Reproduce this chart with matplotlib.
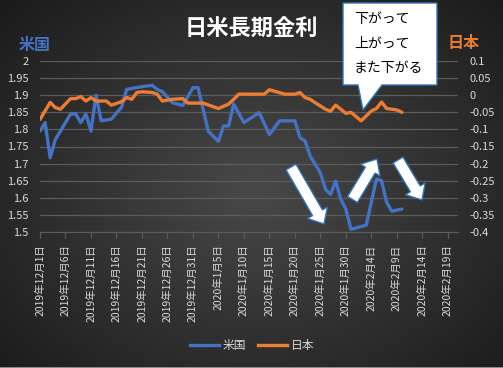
import numpy as np
import matplotlib
matplotlib.use("Agg")
import matplotlib.pyplot as plt
from matplotlib.patches import Polygon, FancyArrow
from matplotlib.ticker import FixedLocator, FuncFormatter
from matplotlib.lines import Line2D
import datetime as dt

plt.rcParams['font.family'] = ['Noto Sans CJK JP', 'DejaVu Sans']

# ---- data ----
us_dates = ["2019-12-01", "2019-12-02", "2019-12-03", "2019-12-04", "2019-12-07", "2019-12-08",
            "2019-12-09", "2019-12-10", "2019-12-11", "2019-12-12", "2019-12-13", "2019-12-15",
            "2019-12-17", "2019-12-18", "2019-12-21", "2019-12-23", "2019-12-24", "2019-12-25",
            "2019-12-27", "2019-12-29", "2019-12-31", "2020-01-01", "2020-01-03", "2020-01-05",
            "2020-01-06", "2020-01-07", "2020-01-08", "2020-01-10", "2020-01-13", "2020-01-15",
            "2020-01-17", "2020-01-20", "2020-01-21", "2020-01-22", "2020-01-23", "2020-01-25",
            "2020-01-26", "2020-01-27", "2020-01-28", "2020-01-29", "2020-01-30", "2020-01-31",
            "2020-02-03", "2020-02-05", "2020-02-06", "2020-02-07", "2020-02-08", "2020-02-10"]
us_values = [1.795, 1.82, 1.717, 1.77, 1.845, 1.845,
             1.82, 1.845, 1.795, 1.90, 1.825, 1.83,
             1.865, 1.917, 1.925, 1.929, 1.917, 1.91,
             1.878, 1.870, 1.922, 1.922, 1.795, 1.765,
             1.81, 1.81, 1.874, 1.82, 1.849, 1.785,
             1.825, 1.825, 1.776, 1.766, 1.722, 1.673,
             1.625, 1.61, 1.649, 1.596, 1.567, 1.508,
             1.52, 1.655, 1.65, 1.587, 1.561, 1.567]

jp_dates = ["2019-12-01", "2019-12-03", "2019-12-04", "2019-12-05", "2019-12-07", "2019-12-08",
            "2019-12-09", "2019-12-10", "2019-12-11", "2019-12-12", "2019-12-14", "2019-12-15",
            "2019-12-17", "2019-12-18", "2019-12-19", "2019-12-20", "2019-12-21", "2019-12-23",
            "2019-12-24", "2019-12-25", "2019-12-27", "2019-12-29", "2019-12-30", "2020-01-02",
            "2020-01-05", "2020-01-07", "2020-01-08", "2020-01-09", "2020-01-11", "2020-01-14",
            "2020-01-15", "2020-01-18", "2020-01-20", "2020-01-21", "2020-01-22", "2020-01-23",
            "2020-01-24", "2020-01-26", "2020-01-27", "2020-01-28", "2020-01-30", "2020-01-31",
            "2020-02-02", "2020-02-04", "2020-02-05", "2020-02-06", "2020-02-07", "2020-02-09",
            "2020-02-10"]
jp_values = [-0.071, -0.021, -0.036, -0.041, -0.010, -0.010,
             -0.004, -0.017, -0.007, -0.017, -0.017, -0.029,
             -0.019, -0.007, -0.012, 0.008, 0.010, 0.008,
             0.003, -0.017, -0.012, -0.010, -0.023, -0.023,
             -0.039, -0.026, -0.012, 0.003, 0.003, 0.003,
             0.016, 0.003, 0.003, 0.008, -0.007, -0.012,
             -0.022, -0.041, -0.047, -0.029, -0.053, -0.050,
             -0.075, -0.046, -0.039, -0.020, -0.039, -0.043,
             -0.050]

left_ticks = [1.5, 1.55, 1.6, 1.65, 1.7, 1.75, 1.8, 1.85, 1.9, 1.95, 2.0]
right_ticks = [-0.4, -0.35, -0.3, -0.25, -0.2, -0.15, -0.1, -0.05, 0.0, 0.05, 0.1]
tick_start = "2019-12-01"
tick_step_days = 5
tick_count = 17
x_end = "2020-02-21"

title = "日米長期金利"
callout_lines = ["下がって", "上がって", "また下がる"]

BLUE = "#4472C4"
ORANGE = "#ED7D31"
TXT = "#d9d9d9"
GRID = "#5c5c5c"

W, H = 503, 368
fig = plt.figure(figsize=(W / 100, H / 100), dpi=100)

# background radial gradient
bg = fig.add_axes([0, 0, 1, 1], zorder=0)
yy, xx = np.mgrid[0:H, 0:W]
r = np.sqrt(((xx - 255) / 330.0) ** 2 + ((yy - 190) / 260.0) ** 2)
c = np.clip(0.285 - 0.17 * r, 0.10, 1)
img = np.dstack([c, c, c])
img[-1, :, :] = 0.55
bg.imshow(img, extent=[0, W, H, 0], aspect='auto', interpolation='nearest')
bg.set_xlim(0, W); bg.set_ylim(H, 0)
bg.axis('off')

def fx(px):
    return px / W

def fy(py):
    return 1 - py / H

L, R, T, B = 40, 458, 61, 232
ax = fig.add_axes([fx(L), fy(B), fx(R) - fx(L), fy(T) - fy(B)], zorder=2)
ax.patch.set_alpha(0)
ax2 = ax.twinx()
ax2.patch.set_alpha(0)

ud = [dt.datetime.strptime(s, "%Y-%m-%d") for s in us_dates]
jd = [dt.datetime.strptime(s, "%Y-%m-%d") for s in jp_dates]

ax.plot(ud, us_values, color=BLUE, lw=2.4, solid_joinstyle='round', solid_capstyle='round', zorder=3)
ax2.plot(jd, jp_values, color=ORANGE, lw=2.4, solid_joinstyle='round', solid_capstyle='round', zorder=3)

t0 = dt.datetime.strptime(tick_start, "%Y-%m-%d")
t1 = dt.datetime.strptime(x_end, "%Y-%m-%d")
ax.set_xlim(t0, t1)
xt = [t0 + dt.timedelta(days=tick_step_days * i) for i in range(tick_count)]
ax.set_xticks(xt)
ax.set_xticklabels([f"{d.year}年{d.month}月{d.day}日" for d in xt], rotation=90,
                   fontsize=7.5, color=TXT, va='top', ha='center')

ax.set_ylim(1.5, 2.0)
ax2.set_ylim(-0.4, 0.1)
fmt = lambda v, p: ("%g" % round(v, 3))
ax.yaxis.set_major_locator(FixedLocator(left_ticks))
ax.yaxis.set_major_formatter(FuncFormatter(fmt))
ax2.yaxis.set_major_locator(FixedLocator(right_ticks))
ax2.yaxis.set_major_formatter(FuncFormatter(fmt))

ax.grid(axis='y', color=GRID, lw=0.9)
ax.set_axisbelow(True)
for a in (ax, ax2):
    for s in a.spines.values():
        s.set_visible(False)
ax.spines['bottom'].set_visible(True)
ax.spines['bottom'].set_color(GRID)
ax.tick_params(axis='x', colors=GRID, length=4, width=0.9, pad=5, labelcolor=TXT)
ax.tick_params(axis='y', length=0, pad=8, labelsize=8, labelcolor=TXT)
ax2.tick_params(axis='y', length=0, pad=8, labelsize=8, labelcolor=TXT)

# axis titles and title
fig.text(fx(35), fy(45), "米国", color=BLUE, fontsize=11.5, fontweight='bold', ha='center', va='center', zorder=5)
fig.text(fx(464), fy(43), "日本", color=ORANGE, fontsize=11.5, fontweight='bold', ha='center', va='center', zorder=5)
fig.text(fx(251), fy(28), title, color='white', fontsize=16, fontweight='bold', ha='center', va='center', zorder=5)

# overlay for annotations
ov = fig.add_axes([0, 0, 1, 1], zorder=4)
ov.set_xlim(0, W); ov.set_ylim(H, 0)
ov.axis('off')
ov.patch.set_alpha(0)
EDGE = "#2f74b5"
box = Polygon([(343, 3), (437, 3), (437, 85), (382, 85), (363, 110), (358, 85), (343, 85)],
              closed=True, fc='white', ec=EDGE, lw=1.0)
ov.add_patch(box)
for i, s in enumerate(callout_lines):
    ov.text(354, 19 + 24.5 * i, s, color='black', fontsize=10, ha='left', va='center')

def arrow(x0, y0, x1, y1):
    dx, dy = x1 - x0, y1 - y0
    ov.add_patch(FancyArrow(x0, y0, dx, dy, width=11.5, head_width=23, head_length=13,
                            length_includes_head=True, fc='white', ec=EDGE, lw=1.0))

arrow(291, 167, 324, 224)
arrow(352.5, 199.5, 377, 159)
arrow(398, 160, 422, 200)

# legend
h = [Line2D([], [], color=BLUE, lw=2.4), Line2D([], [], color=ORANGE, lw=2.4)]
leg = fig.legend(h, ["米国", "日本"], loc='center', bbox_to_anchor=(fx(252), fy(346)), ncol=2,
                 frameon=False, fontsize=8.5, handlelength=2.5, handletextpad=0.3, columnspacing=1.0)
for t in leg.get_texts():
    t.set_color(TXT)

fig.savefig("out.png", dpi=100)
